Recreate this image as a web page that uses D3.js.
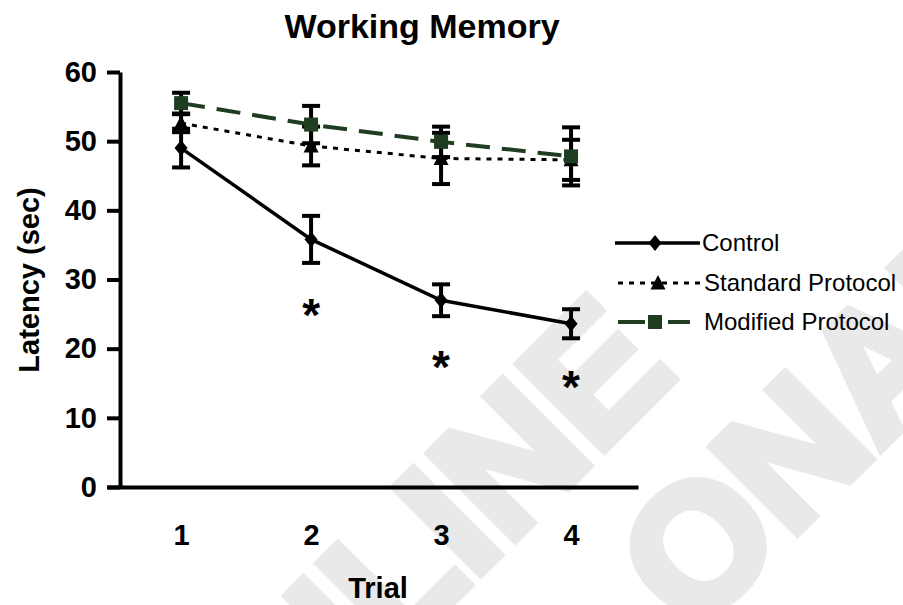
<!DOCTYPE html>
<html>
<head>
<meta charset="utf-8">
<script src="https://cdn.jsdelivr.net/npm/d3@7"></script>
<style>
  body { margin: 0; background: #fff; }
  text { font-family: Arial, "Liberation Sans", sans-serif; }
</style>
</head>
<body>
<svg id="chart" width="903" height="605"></svg>
<script>
// data
const trials = [1, 2, 3, 4];
const controlMean = [49.0, 35.8, 27.0, 23.6];
const controlErr = [2.8, 3.4, 2.3, 2.1];
const standardMean = [52.6, 49.3, 47.5, 47.3];
const standardErr = [1.3, 2.8, 3.7, 2.9];
const modifiedMean = [55.5, 52.4, 49.9, 47.8];
const modifiedErr = [1.5, 2.7, 2.2, 4.2];
const yTicks = [0, 10, 20, 30, 40, 50, 60];
const starTrials = [2, 3, 4];
const starLevels = [26.3, 18.8, 15.9];
const seriesNames = ["Control", "Standard Protocol", "Modified Protocol"];

const green = "#1f3d20";
const svg = d3.select("#chart");

svg.append("rect").attr("width", 903).attr("height", 605).attr("fill", "#fff");

// faint watermark behind everything
let wm = svg.append("g").attr("transform", "rotate(-45)")
    .attr("fill", "#e9e9e9")
    .attr("stroke", "#e9e9e9")
    .attr("stroke-width", 10)
    .attr("stroke-linejoin", "miter")
    .style("font-weight", "bold")
    .style("font-size", "175px");
wm.append("text").attr("x", 215).attr("y", 745).attr("text-anchor", "end").text("ONLINE");
wm.append("text").attr("x", 40).attr("y", 940).text("ONAL");

let x = d3.scaleLinear().domain([0.43, 4.515]).range([107, 638]);
let y = d3.scaleLinear().domain([0, 60]).range([487, 72]);

// axes
let yAxis = svg.append("g")
    .attr("transform", "translate(120,0)")
    .call(d3.axisLeft(y).tickValues(yTicks).tickSize(13).tickSizeOuter(0).tickPadding(10));
yAxis.selectAll("path, line").attr("stroke", "#000").attr("stroke-width", 4);
yAxis.selectAll("text")
    .attr("fill", "#000")
    .style("font-size", "29px")
    .style("font-weight", "bold");

let xAxis = svg.append("g")
    .attr("transform", "translate(0,487)")
    .call(d3.axisBottom(x).tickValues(trials).tickSize(0).tickPadding(37).tickFormat(d3.format("d")));
xAxis.select(".domain").attr("stroke", "#000").attr("stroke-width", 4);
xAxis.selectAll("text")
    .attr("fill", "#000")
    .style("font-size", "29px")
    .style("font-weight", "bold");

svg.append("text")
    .attr("x", 422).attr("y", 38)
    .attr("text-anchor", "middle")
    .style("font-size", "34px").style("font-weight", "bold")
    .text("Working Memory");

svg.append("text")
    .attr("x", 378).attr("y", 598)
    .attr("text-anchor", "middle")
    .style("font-size", "29px").style("font-weight", "bold")
    .text("Trial");

svg.append("text")
    .attr("transform", "translate(39,280) rotate(-90)")
    .attr("text-anchor", "middle")
    .style("font-size", "29px").style("font-weight", "bold")
    .text("Latency (sec)");

// series
const series = [
    { name: seriesNames[0], mean: controlMean, err: controlErr, color: "#000", dash: null, width: 3.5, marker: "diamond" },
    { name: seriesNames[1], mean: standardMean, err: standardErr, color: "#000", dash: "5,6", width: 3, marker: "triangle" },
    { name: seriesNames[2], mean: modifiedMean, err: modifiedErr, color: green, dash: "24,12", width: 4, marker: "square" }
];

function markerPath(kind) {
    if (kind === "diamond") return "M0,-8L6.5,0L0,8L-6.5,0Z";
    if (kind === "triangle") return "M0,-8L7.5,6.5L-7.5,6.5Z";
    return "M-7,-7H7V7H-7Z";
}

let line = d3.line()
    .x(function(d) { return x(d.trial); })
    .y(function(d) { return y(d.value); });

let errG = svg.append("g");
series.forEach(function(s) {
    let pts = trials.map(function(t, i) {
        return { trial: t, value: s.mean[i], err: s.err[i] };
    });
    pts.forEach(function(p) {
        let cx = x(p.trial);
        errG.append("line")
            .attr("x1", cx).attr("x2", cx)
            .attr("y1", y(p.value + p.err)).attr("y2", y(p.value - p.err))
            .attr("stroke", "#000").attr("stroke-width", 4);
        [p.value + p.err, p.value - p.err].forEach(function(v) {
            errG.append("line")
                .attr("x1", cx - 9).attr("x2", cx + 9)
                .attr("y1", y(v)).attr("y2", y(v))
                .attr("stroke", "#000").attr("stroke-width", 4);
        });
    });
    s.pts = pts;
});

series.forEach(function(s) {
    svg.append("path")
        .datum(s.pts)
        .attr("d", line)
        .attr("fill", "none")
        .attr("stroke", s.color)
        .attr("stroke-width", s.width)
        .attr("stroke-dasharray", s.dash);
});

series.forEach(function(s) {
    svg.selectAll(null)
        .data(s.pts)
        .enter().append("path")
        .attr("transform", function(d) { return "translate(" + x(d.trial) + "," + y(d.value) + ")"; })
        .attr("d", markerPath(s.marker))
        .attr("fill", s.color);
});

// significance stars
svg.selectAll(".star")
    .data(starTrials.map(function(t, i) { return { trial: t, level: starLevels[i] }; }))
    .enter().append("text")
    .attr("class", "star")
    .attr("x", function(d) { return x(d.trial); })
    .attr("y", function(d) { return y(d.level) + 26; })
    .attr("text-anchor", "middle")
    .style("font-size", "46px").style("font-weight", "bold")
    .text("*");

// legend
let legend = svg.append("g");
const legendY = [243, 283, 322];
series.forEach(function(s, i) {
    let ly = legendY[i];
    let x1 = i === 0 ? 615 : 618;
    let x2 = i === 2 ? 690 : 700;
    legend.append("line")
        .attr("x1", x1).attr("x2", x2)
        .attr("y1", ly).attr("y2", ly)
        .attr("stroke", s.color)
        .attr("stroke-width", s.width)
        .attr("stroke-dasharray", s.marker === "square" ? "27,23" : s.dash);
    legend.append("path")
        .attr("transform", "translate(" + (i === 1 ? 658 : 655) + "," + ly + ")")
        .attr("d", markerPath(s.marker))
        .attr("fill", s.color);
    legend.append("text")
        .attr("x", i === 0 ? 702 : 704)
        .attr("y", ly + 8)
        .style("font-size", "24px")
        .text(s.name);
});
</script>
</body>
</html>
